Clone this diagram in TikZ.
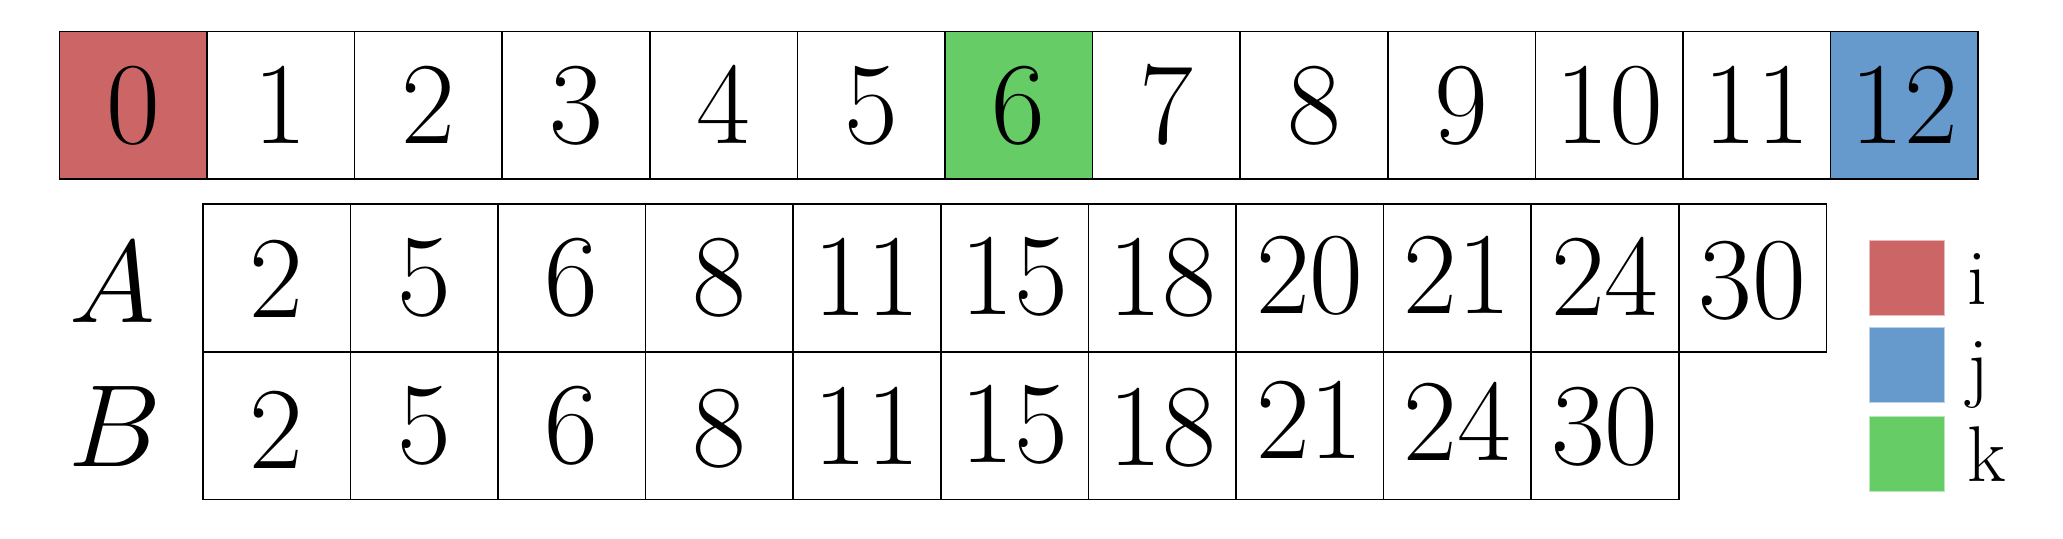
\RequirePackage{fix-cm}
\documentclass[tikz,border=0pt]{standalone}
\definecolor{cred}{RGB}{204,102,102}
\definecolor{cblue}{RGB}{102,153,204}
\definecolor{cgreen}{RGB}{102,204,102}
\begin{document}
\begin{tikzpicture}[x=0.5pt,y=-0.5pt,
  cell/.style={draw, line width=0.8pt, minimum width=73.8pt, minimum height=73.8pt,
    inner sep=0pt, outer sep=0pt, text height=37.7pt, text depth=0pt,
    font=\fontsize{58.5}{62}\selectfont},
  rowlabel/.style={anchor=base, inner sep=0pt, font=\fontsize{58.5}{62}\selectfont},
  legbox/.style={minimum width=37.5pt, minimum height=37.2pt, inner sep=0pt, outer sep=0pt, line width=0.4pt},
  leglabel/.style={anchor=base west, inner sep=0pt, font=\fontsize{39.5}{42}\selectfont}]
\useasboundingbox (0,0) rectangle (2063,539);
% index row
\foreach \v/\c [count=\i from 0] in {0/cred,1/white,2/white,3/white,4/white,5/white,6/cgreen,7/white,8/white,9/white,10/white,11/white,12/cblue}{
  \node[cell, fill=\c] (t\i) at ({59.3+147.6*(\i+0.5)},105.5) {\v};
}
% array A
\foreach \v/\s [count=\i from 0] in {2/-1,5/0,6/0,8/0,11/0,15/0.5,18/0,20/1,21/1,24/0,30/-1.5}{
  \node[cell] (a\i) at ({202.7+147.6*(\i+0.5)},278.1) {\raisebox{\s pt}{\v}};
}
% array B
\foreach \v/\s [count=\i from 0] in {2/-2.5,5/0,6/0,8/-1.5,11/-0.5,15/0.5,18/-1,21/2.5,24/1.5,30/-0.5}{
  \node[cell] (b\i) at ({202.7+147.6*(\i+0.5)},425.7) {\raisebox{\s pt}{\v}};
}
\node[rowlabel] (labA) at (112,323) {$A$};
\node[rowlabel] (labB) at (115,467) {$B$};
% legend
\node[legbox, fill=cred, draw=cred!45!white] (li) at (1906.8,278) {};
\node[legbox, fill=cblue, draw=cblue!45!white] (lj) at (1906.8,364.8) {};
\node[legbox, fill=cgreen, draw=cgreen!45!white] (lk) at (1906.8,453.8) {};
\node[leglabel] (ti) at (1967.5,305) {i};
\node[leglabel] (tj) at (1967.5,393) {j};
\node[leglabel] (tk) at (1967.5,481.7) {k};
\end{tikzpicture}
\end{document}
